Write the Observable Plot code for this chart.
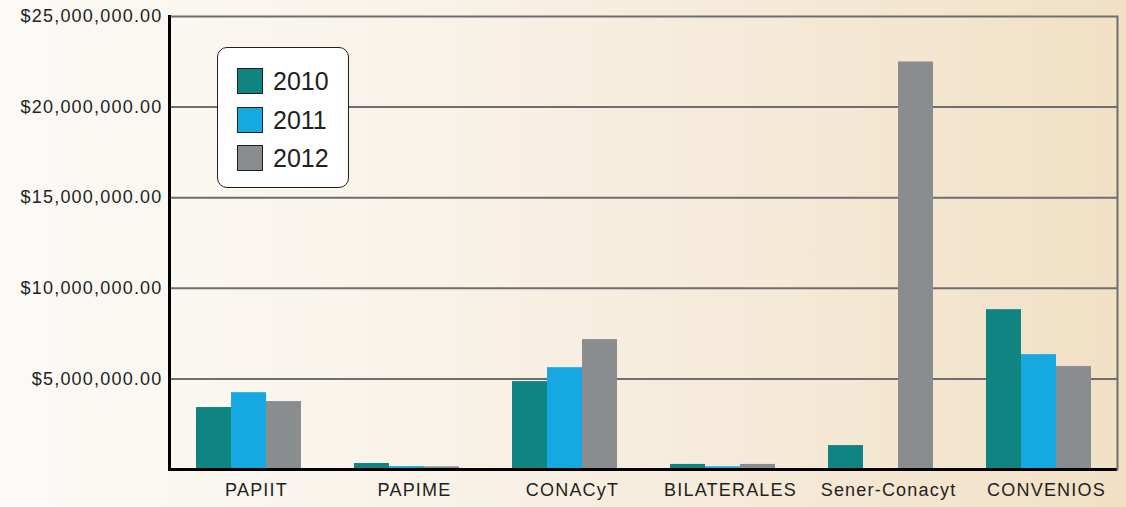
<!DOCTYPE html>
<html>
<head>
<meta charset="utf-8">
<script src="https://cdn.jsdelivr.net/npm/d3@7"></script>
<script src="https://cdn.jsdelivr.net/npm/@observablehq/plot@0.6"></script>
<style>
  html, body { margin: 0; padding: 0; }
  body { width: 1126px; height: 507px; overflow: hidden;
    background: linear-gradient(to right, #fcfaf7 0%, #f9f3ea 35%, #f5e9d7 70%, #f1e0c4 100%);
    font-family: "Liberation Sans", Arial, sans-serif; }
  #wrap { position: relative; width: 1126px; height: 507px; }
  #legend { position: absolute; left: 217px; top: 47px; width: 130px; height: 139px;
    background: #fff; border: 1.5px solid #231f20; border-radius: 10px; }
  .item { position: absolute; left: 19px; height: 26px; display: flex; align-items: center; }
  .sw { width: 24px; height: 24px; border: 1.5px solid #231f20; }
  .lab { margin-left: 10px; font-size: 25px; color: #231f20; line-height: 26px; }
</style>
</head>
<body>
<div id="wrap"></div>
<script>
const categories = ["PAPIIT", "PAPIME", "CONACyT", "BILATERALES", "Sener-Conacyt", "CONVENIOS"];
const years = ["2010", "2011", "2012"];
const values2010 = [3.42e6, 0.33e6, 4.85e6, 0.28e6, 1.32e6, 8.82e6];
const values2011 = [4.24e6, 0.16e6, 5.62e6, 0.15e6, 0, 6.34e6];
const values2012 = [3.75e6, 0.15e6, 7.17e6, 0.28e6, 22.49e6, 5.68e6];
const yTicks = [5e6, 10e6, 15e6, 20e6, 25e6];
const colors = ["#0f8481", "#16a9e1", "#8a8d90"];

const series = [values2010, values2011, values2012];
const rows = [];
categories.forEach((c, i) => years.forEach((y, j) => rows.push({cat: c, year: y, value: series[j][i]})));

const fmt = d3.format("$,.2f");

function build(useSuper) {
  const marks = [
    Plot.ruleY(yTicks, {stroke: "#6d6e71", strokeWidth: 2}),
    Plot.barY(rows, {fx: "cat", x: "year", y: "value", fill: "year"}),
    Plot.ruleY([0], {stroke: "#000", strokeWidth: 3})
  ];
  if (useSuper) {
    marks.push(Plot.frame({anchor: "right", facet: "super", stroke: "#6d6e71", strokeWidth: 2}));
    marks.push(Plot.frame({anchor: "left", facet: "super", stroke: "#000", strokeWidth: 3}));
    marks.push(Plot.axisFx({anchor: "bottom", tickSize: 0, tickPadding: 14, dx: 8, label: null}));
  }
  return Plot.plot({
    width: 1126, height: 507,
    marginLeft: 168, marginRight: 9, marginTop: 16, marginBottom: 38,
    style: {background: "transparent", fontFamily: "'Liberation Sans', Arial, sans-serif",
            fontSize: "18px", color: "#231f20", letterSpacing: "1.2px", overflow: "visible"},
    fx: useSuper
      ? {domain: categories, paddingInner: 0, paddingOuter: 0, axis: null}
      : {domain: categories, paddingInner: 0, paddingOuter: 0, label: null, tickSize: 0, tickPadding: 14, axis: "bottom"},
    x: {domain: years, paddingInner: 0, paddingOuter: 0.735, axis: null},
    y: {domain: [0, 25e6], ticks: yTicks, tickFormat: fmt, tickSize: 0, tickPadding: 7, label: null, line: !useSuper},
    color: {domain: years, range: colors},
    marks
  });
}

let chart;
try { chart = build(true); } catch (e) { chart = build(false); }
const wrap = document.getElementById("wrap");
wrap.appendChild(chart);

const legend = document.createElement("div");
legend.id = "legend";
years.forEach((y, i) => {
  const it = document.createElement("div");
  it.className = "item";
  it.style.top = (20 + i * 38.5) + "px";
  const sw = document.createElement("div");
  sw.className = "sw";
  sw.style.background = colors[i];
  const lab = document.createElement("span");
  lab.className = "lab";
  lab.textContent = y;
  it.appendChild(sw); it.appendChild(lab);
  legend.appendChild(it);
});
wrap.appendChild(legend);
</script>
</body>
</html>
